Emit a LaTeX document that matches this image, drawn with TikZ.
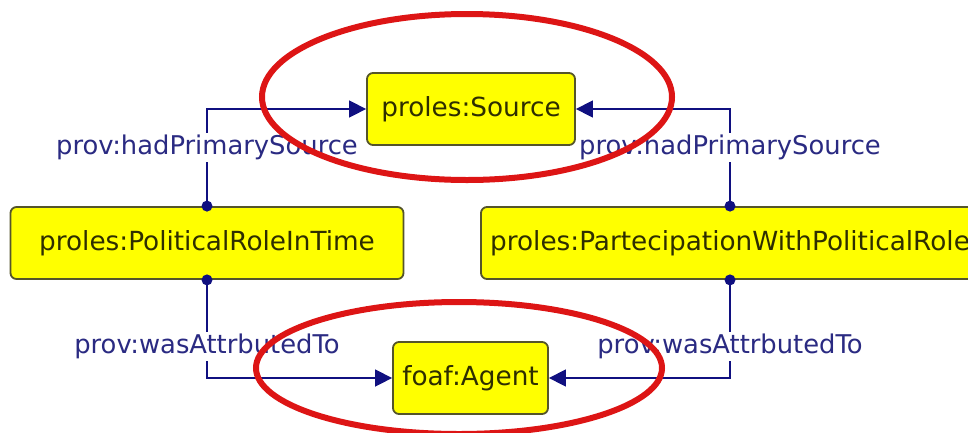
\documentclass[tikz,border=0pt]{standalone}
\usepackage{fontspec}
\usepackage{tikz}
\usetikzlibrary{arrows.meta,positioning}
\newfontfamily\graphfont{DejaVu Sans}
\definecolor{nodeyellow}{HTML}{FFFF00}
\definecolor{nodeborder}{HTML}{55552A}
\definecolor{nodetext}  {HTML}{2E2E00}
\definecolor{relblue}   {HTML}{101080}
\definecolor{lblblue}   {HTML}{2A2A82}
\definecolor{markred}   {HTML}{DD1515}

\begin{document}
\begin{tikzpicture}[x=1pt,y=-1pt,
  cls/.style={draw=nodeborder,line width=1.8pt,fill=nodeyellow,rounded corners=6pt,
              minimum height=72pt,inner sep=0pt,text=nodetext,
              font=\graphfont\fontsize{26.3}{30}\selectfont},
  rel/.style={-{Triangle[length=17pt,width=17pt]},line width=1.5pt,draw=relblue},
  lbl/.style={fill=white,inner sep=2pt,text=lblblue,
              font=\graphfont\fontsize{25.8}{30}\selectfont},
  dot/.style={fill=relblue},
  redring/.style={draw=markred,line width=6pt}
]
\useasboundingbox (0,0) rectangle (968,432);
\clip (0,0) rectangle (968,432);

\node[cls,minimum width=208pt] (src)   at (471,109)   {proles:Source};
\node[cls,minimum width=393pt] (role)  at (207,243)   {proles:PoliticalRoleInTime};
\node[cls,minimum width=498pt] (part)  at (730,243)   {proles:PartecipationWithPoliticalRole};
\node[cls,minimum width=155pt] (agent) at (470.5,378) {foaf:Agent};

\draw[rel] (role.north) |- node[lbl,pos=0.30]{prov:hadPrimarySource} (src.west);
\draw[rel] (part.north) |- node[lbl,pos=0.30]{prov:hadPrimarySource} (src.east);
\draw[rel] (role.south) |- node[lbl,pos=0.34]{prov:wasAttrbutedTo} (agent.west);
\draw[rel] (part.south) |- node[lbl,pos=0.34]{prov:wasAttrbutedTo} (agent.east);

\foreach \n/\a in {role/north,part/north,role/south,part/south}
  \fill[dot] (\n.\a) circle (5.5pt);

% highlighted classes
\draw[redring] (467,97)  ellipse [x radius=205pt, y radius=83pt];
\draw[redring] (459,368) ellipse [x radius=203pt, y radius=66pt];
\end{tikzpicture}
\end{document}
